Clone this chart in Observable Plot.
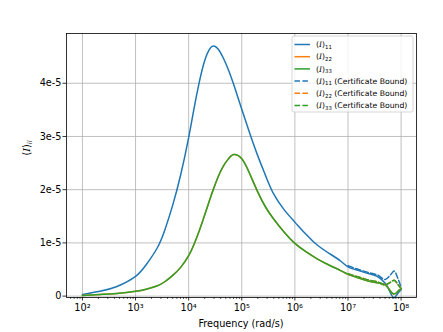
<!DOCTYPE html>
<html>
<head>
<meta charset="utf-8">
<script src="https://cdn.jsdelivr.net/npm/d3@7"></script>
<script src="https://cdn.jsdelivr.net/npm/@observablehq/plot@0.6"></script>
<style>
  html, body { margin: 0; padding: 0; background: white; }
  svg { display: block; }
</style>
</head>
<body>
<div id="chart"></div>
<script>
// ---- data ----
const freqExp = [2.0, 2.33, 2.65, 3.0, 3.2, 3.4, 3.55, 3.7, 3.85, 4.0, 4.1, 4.2, 4.3, 4.4, 4.47, 4.55, 4.65, 4.75, 4.85, 5.0, 5.15, 5.3, 5.45, 5.6, 5.8, 6.0, 6.2, 6.42, 6.65, 6.86, 7.0, 7.2, 7.4, 7.55, 7.7, 7.78, 7.86, 7.93, 8.0];
const I11 = [0.03, 0.09, 0.18, 0.37, 0.59, 0.89, 1.24, 1.71, 2.28, 2.98, 3.52, 4.02, 4.42, 4.65, 4.70, 4.65, 4.48, 4.25, 3.97, 3.51, 3.06, 2.64, 2.26, 1.92, 1.62, 1.39, 1.17, 0.96, 0.80, 0.66, 0.55, 0.48, 0.42, 0.37, 0.24, 0.10, -0.03, 0.04, 0.12].map(v => v * 1e-5);
const I33 = [0.01, 0.03, 0.05, 0.09, 0.13, 0.19, 0.27, 0.39, 0.54, 0.76, 0.97, 1.23, 1.52, 1.82, 2.02, 2.23, 2.44, 2.58, 2.66, 2.58, 2.30, 1.96, 1.67, 1.45, 1.20, 0.99, 0.84, 0.70, 0.58, 0.48, 0.41, 0.34, 0.28, 0.25, 0.21, 0.12, 0.04, 0.08, 0.14].map(v => v * 1e-5);
const I22 = I33.slice(); // identical to I33 (hidden under it)

const boundExp = [7.0, 7.2, 7.4, 7.55, 7.7, 7.8, 7.87, 7.94, 8.0];
const B11 = [0.57, 0.50, 0.44, 0.40, 0.31, 0.40, 0.47, 0.33, 0.16].map(v => v * 1e-5);
const B33 = [0.42, 0.36, 0.30, 0.27, 0.21, 0.26, 0.30, 0.22, 0.14].map(v => v * 1e-5);
const B22 = B33.slice();

const seriesNames = ["11", "22", "33"];
const seriesColors = ["#1f77b4", "#ff7f0e", "#2ca02c"];
const yTicks = [0, 1e-5, 2e-5, 3e-5, 4e-5];
const yTickLabels = ["0", "1e-5", "2e-5", "3e-5", "4e-5"];
const xMajorExp = [2, 3, 4, 5, 6, 7, 8];
const supDigits = {"0":"⁰","1":"¹","2":"²","3":"³","4":"⁴","5":"⁵","6":"⁶","7":"⁷","8":"⁸","9":"⁹"};
const xLabel = "Frequency (rad/s)";
const boundSuffix = " (Certificate Bound)";

// ---- build tables ----
const solid = [I11, I22, I33];
const bound = [B11, B22, B33];
const solidRows = [];
solid.forEach((arr, k) => arr.forEach((v, i) => solidRows.push({s: k, f: 10 ** freqExp[i], v})));
const boundRows = [];
bound.forEach((arr, k) => arr.forEach((v, i) => boundRows.push({s: k, f: 10 ** boundExp[i], v})));

const xMajor = xMajorExp.map(e => 10 ** e);
const xMinor = [];
for (let k = 1; k <= 8; k++) for (let m = 2; m <= 9; m++) {
  const t = m * 10 ** k;
  if (t >= 10 ** 1.7 && t <= 10 ** 8.29) xMinor.push(t);
}

const lineMarks = [];
[0, 1, 2].forEach(k => lineMarks.push(Plot.line(solidRows.filter(d => d.s === k), {x: "f", y: "v", stroke: seriesColors[k], strokeWidth: 1.5, curve: "natural"})));
[0, 1, 2].forEach(k => lineMarks.push(Plot.line(boundRows.filter(d => d.s === k), {x: "f", y: "v", stroke: seriesColors[k], strokeWidth: 1.5, strokeDasharray: "5.5,2.4", curve: "catmull-rom"})));

const chart = Plot.plot({
  width: 443,
  height: 332,
  marginLeft: 66,
  marginRight: 27,
  marginTop: 33,
  marginBottom: 35,
  style: {fontFamily: "DejaVu Sans", fontSize: "9.7px", background: "white", color: "black"},
  x: {type: "log", domain: [10 ** 1.7, 10 ** 8.29]},
  y: {domain: [-0.026e-5, 4.935e-5]},
  marks: [
    Plot.gridX(xMajor, {stroke: "#b0b0b0", strokeOpacity: 1, strokeWidth: 0.8}),
    Plot.gridY(yTicks, {stroke: "#b0b0b0", strokeOpacity: 1, strokeWidth: 0.8}),
    ...lineMarks,
    Plot.frame({stroke: "black", strokeWidth: 0.8}),
    Plot.axisX(xMinor, {tickSize: 2, tickFormat: () => "", label: null, strokeWidth: 0.6}),
    Plot.axisX(xMajor, {tickSize: 3.5, tickPadding: 3.5, strokeWidth: 0.8, label: null,
      tickFormat: d => "10" + String(Math.round(Math.log10(d))).split("").map(c => supDigits[c]).join("")}),
    Plot.axisY(yTicks, {tickSize: 3.5, tickPadding: 1.5, strokeWidth: 0.8, label: null,
      tickFormat: d => yTickLabels[yTicks.indexOf(d)]})
  ]
});
document.getElementById("chart").appendChild(chart);

// ---- labels & legend ----
const svg = d3.select(chart);
svg.append("text")
  .attr("x", 241).attr("y", 326.5)
  .attr("text-anchor", "middle")
  .style("font-family", "DejaVu Sans").style("font-size", "9.7px")
  .text(xLabel);

const yl = svg.append("text")
  .attr("transform", "translate(30,148) rotate(-90)")
  .attr("text-anchor", "middle")
  .style("font-family", "DejaVu Sans").style("font-size", "9.7px");
yl.append("tspan").text("(");
yl.append("tspan").style("font-family", "DejaVu Serif").style("font-style", "italic").text("I");
yl.append("tspan").text(")");
yl.append("tspan").style("font-size", "6.8px").attr("dy", 2).style("font-style", "italic").text("ii");

const lg = svg.append("g");
lg.append("rect")
  .attr("x", 292).attr("y", 36).attr("width", 121).attr("height", 76).attr("rx", 2)
  .attr("fill", "white").attr("fill-opacity", 0.8)
  .attr("stroke", "#cccccc").attr("stroke-width", 0.8);
const legendItems = [];
seriesNames.forEach((n, k) => legendItems.push({n, c: seriesColors[k], dashed: false}));
seriesNames.forEach((n, k) => legendItems.push({n, c: seriesColors[k], dashed: true}));
legendItems.forEach((it, i) => {
  const y = 44.5 + i * 12.2;
  lg.append("line")
    .attr("x1", 294.5).attr("x2", 310).attr("y1", y).attr("y2", y)
    .attr("stroke", it.c).attr("stroke-width", 1.5)
    .attr("stroke-dasharray", it.dashed ? "5.5,2.4" : null);
  const t = lg.append("text")
    .attr("x", 316).attr("y", y + 2.6)
    .attr("text-anchor", "start")
    .style("font-family", "DejaVu Sans").style("font-size", "7.7px");
  t.append("tspan").text("(");
  t.append("tspan").style("font-family", "DejaVu Serif").style("font-style", "italic").text("I");
  t.append("tspan").text(")");
  t.append("tspan").style("font-size", "5.4px").attr("dy", 1.6).text(it.n);
  if (it.dashed) t.append("tspan").attr("dy", -1.6).text(boundSuffix);
});
</script>
</body>
</html>
